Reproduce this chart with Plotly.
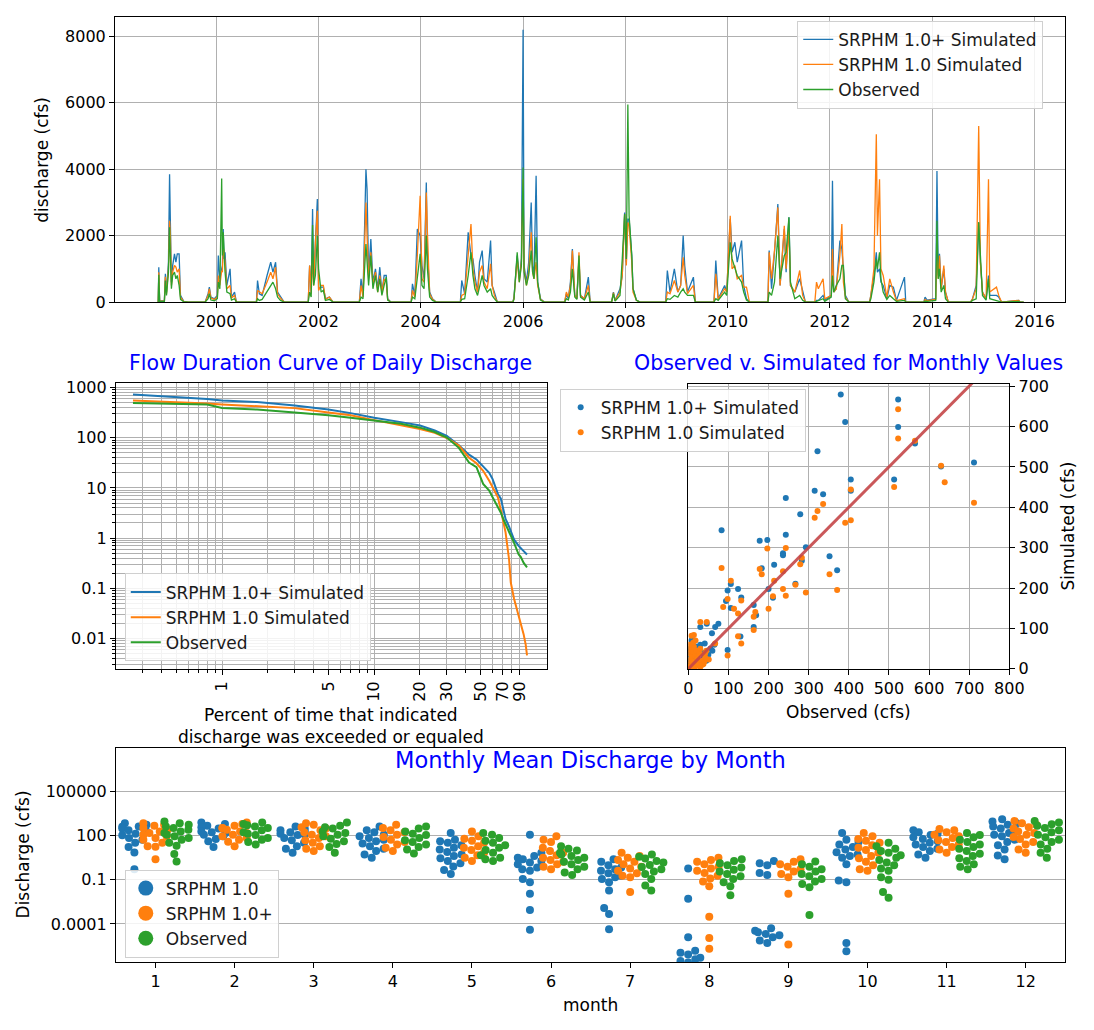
import numpy as np
import plotly.graph_objects as go

# ---------------------------------------------------------------- data
# Daily discharge (cfs): storm peaks and baseflow points per water year
daily_dates = [
    '1998-11-10', '1998-11-14', '1998-11-18', '1998-11-24', '1998-12-28', '1999-01-04', '1999-01-12', '1999-01-26', '1999-02-03', '1999-02-09', '1999-02-16', '1999-02-25', '1999-03-10', '1999-03-20', '1999-03-30', '1999-04-12', '1999-04-22', '1999-05-15', '1999-06-15',
    '1999-10-15', '1999-11-05', '1999-11-14', '1999-11-25', '1999-12-20', '2000-01-10', '2000-01-17', '2000-01-28', '2000-02-10', '2000-02-15', '2000-02-21', '2000-02-27', '2000-03-05', '2000-03-18', '2000-04-10', '2000-04-20', '2000-05-12', '2000-05-25',
    '2000-10-15', '2000-10-23', '2000-11-05', '2000-11-25', '2000-12-30', '2001-01-25', '2001-02-10', '2001-03-01', '2001-03-15', '2001-04-05', '2001-05-01',
    '2001-10-20', '2001-10-30', '2001-11-10', '2001-11-20', '2001-11-28', '2001-12-10', '2001-12-24', '2002-01-02', '2002-01-20', '2002-02-05', '2002-02-20', '2002-03-20', '2002-04-15',
    '2002-10-20', '2002-11-01', '2002-11-15', '2002-12-06', '2002-12-14', '2002-12-25', '2003-01-10', '2003-01-25', '2003-02-12', '2003-02-28', '2003-03-15', '2003-03-30', '2003-04-15', '2003-04-30', '2003-05-10', '2003-06-01',
    '2003-10-25', '2003-11-03', '2003-11-20', '2003-12-08', '2003-12-28', '2004-01-10', '2004-01-25', '2004-02-10', '2004-02-18', '2004-03-05', '2004-03-25', '2004-04-20',
    '2004-10-10', '2004-10-20', '2004-11-10', '2004-12-05', '2004-12-25', '2005-01-08', '2005-01-22', '2005-02-10', '2005-02-24', '2005-03-15', '2005-03-28', '2005-04-20', '2005-05-14', '2005-05-25', '2005-06-10', '2005-07-01',
    '2005-10-20', '2005-10-28', '2005-11-20', '2005-12-05', '2005-12-20', '2006-01-01', '2006-01-08', '2006-01-25', '2006-02-10', '2006-02-28', '2006-03-10', '2006-03-20', '2006-04-04', '2006-04-15', '2006-05-05', '2006-06-01',
    '2006-10-25', '2006-11-06', '2006-11-20', '2006-12-05', '2006-12-19', '2007-01-05', '2007-01-20', '2007-02-04', '2007-02-15', '2007-03-15', '2007-04-12', '2007-04-25',
    '2007-09-25', '2007-10-08', '2007-10-20', '2007-11-24', '2007-12-10', '2007-12-27', '2008-01-08', '2008-01-19', '2008-01-28', '2008-02-16', '2008-02-25', '2008-03-20', '2008-04-15',
    '2008-10-15', '2008-10-27', '2008-11-15', '2008-12-16', '2009-01-10', '2009-01-30', '2009-02-17', '2009-02-28', '2009-03-20', '2009-05-01', '2009-05-15',
    '2009-09-25', '2009-10-08', '2009-10-25', '2009-12-10', '2009-12-25', '2010-01-19', '2010-02-01', '2010-02-21', '2010-03-10', '2010-04-10', '2010-04-25', '2010-05-15', '2010-06-05',
    '2010-10-15', '2010-10-24', '2010-11-10', '2010-12-01', '2010-12-25', '2011-01-10', '2011-02-09', '2011-02-22', '2011-03-14', '2011-03-25', '2011-04-25', '2011-05-30', '2011-06-20', '2011-07-10',
    '2011-09-15', '2011-09-27', '2011-10-10', '2011-11-13', '2011-11-25', '2012-01-10', '2012-01-19', '2012-01-28', '2012-02-15', '2012-03-12', '2012-03-26', '2012-04-06', '2012-04-20', '2012-05-15',
    '2012-10-10', '2012-10-19', '2012-11-10', '2012-11-27', '2012-12-05', '2012-12-20', '2012-12-30', '2013-01-15', '2013-02-10', '2013-03-03', '2013-03-29', '2013-04-20', '2013-06-16', '2013-06-25',
    '2013-11-01', '2013-11-10', '2013-11-25', '2014-01-25', '2014-02-03', '2014-02-12', '2014-02-21', '2014-03-05', '2014-03-24', '2014-04-05', '2014-04-25',
    '2014-10-01', '2014-10-15', '2014-11-10', '2014-11-28', '2014-12-10', '2014-12-25', '2015-01-20', '2015-02-06', '2015-02-15', '2015-04-04', '2015-04-20', '2015-05-10', '2015-09-10', '2015-09-20', '2015-10-15',
]
daily_srphm_plus = [
    0, 0, 1050, 30, 40, 850, 300, 1200, 3850, 2300, 600, 1100, 1450, 1200, 1450, 1450, 200, 20, 0,
    0, 250, 450, 150, 100, 200, 1400, 700, 1000, 1100, 2200, 1300, 1500, 500, 1000, 150, 300, 0,
    0, 650, 250, 200, 800, 1200, 900, 1200, 300, 150, 0,
    0, 1100, 300, 2800, 600, 1700, 3100, 400, 450, 450, 100, 150, 0,
    0, 700, 200, 4000, 3400, 800, 1900, 600, 1000, 400, 1050, 300, 800, 800, 100, 0,
    0, 550, 200, 2200, 2000, 1100, 700, 3600, 1500, 300, 100, 0,
    0, 650, 250, 2100, 1400, 1300, 800, 300, 1200, 1550, 700, 600, 1850, 500, 300, 0,
    0, 150, 1400, 700, 1300, 8200, 1100, 600, 1200, 3000, 1100, 800, 3800, 600, 100, 0,
    0, 250, 100, 600, 1600, 200, 100, 1300, 200, 100, 750, 0,
    0, 300, 50, 400, 800, 2700, 1200, 2500, 2500, 1400, 400, 60, 0,
    0, 950, 300, 1000, 300, 500, 2000, 1100, 300, 750, 0,
    0, 1250, 100, 500, 300, 2500, 1500, 1800, 1200, 1850, 500, 100, 0,
    0, 1550, 400, 1500, 2950, 500, 2200, 900, 2550, 500, 300, 700, 300, 0,
    0, 50, 50, 200, 50, 200, 3650, 300, 400, 1850, 1600, 1050, 200, 0,
    0, 200, 800, 1500, 900, 1000, 600, 500, 100, 500, 450, 50, 750, 0,
    0, 150, 60, 100, 3950, 800, 1450, 400, 1000, 300, 0,
    0, 100, 500, 2400, 1200, 300, 100, 800, 200, 200, 150, 0, 50, 0, 0,
]
daily_srphm = [
    0, 0, 900, 25, 30, 760, 250, 1000, 2450, 2000, 500, 900, 1100, 1050, 900, 1000, 150, 10, 0,
    0, 200, 400, 120, 80, 150, 800, 500, 950, 900, 1650, 1500, 1200, 400, 500, 120, 200, 0,
    0, 350, 300, 250, 600, 900, 700, 1050, 250, 120, 0,
    0, 1100, 250, 1400, 500, 1800, 2750, 350, 500, 500, 80, 150, 0,
    0, 500, 150, 3000, 2000, 700, 1500, 500, 900, 300, 800, 300, 700, 600, 80, 0,
    0, 350, 150, 1400, 3200, 700, 600, 3300, 2100, 250, 80, 0,
    0, 200, 250, 1500, 2350, 1000, 600, 300, 900, 1100, 600, 400, 1150, 500, 200, 0,
    0, 100, 1300, 600, 1200, 3700, 1000, 500, 900, 2100, 900, 700, 1200, 500, 80, 0,
    0, 300, 150, 500, 1550, 200, 100, 1500, 200, 100, 500, 0,
    0, 280, 40, 300, 800, 2650, 1100, 2400, 2300, 1200, 300, 50, 0,
    0, 300, 250, 650, 300, 500, 1350, 800, 250, 500, 0,
    0, 850, 80, 400, 300, 2600, 1000, 1100, 700, 800, 450, 450, 0,
    0, 1500, 700, 1550, 2850, 500, 2300, 1000, 2200, 500, 300, 950, 200, 0,
    0, 600, 400, 700, 100, 200, 1600, 300, 400, 1400, 2350, 600, 150, 0,
    0, 200, 1000, 5050, 2000, 3700, 1000, 800, 150, 700, 300, 40, 100, 0,
    0, 80, 40, 80, 1500, 700, 1400, 400, 1100, 300, 0,
    0, 100, 400, 5300, 1200, 300, 100, 3700, 300, 450, 200, 0, 50, 0, 0,
]
daily_observed = [
    0, 0, 820, 20, 20, 650, 200, 900, 2250, 1600, 400, 800, 900, 700, 800, 500, 80, 10, 0,
    0, 100, 250, 60, 40, 100, 600, 400, 3720, 1400, 2100, 1300, 900, 300, 250, 60, 100, 0,
    0, 100, 50, 80, 300, 500, 600, 400, 150, 50, 0,
    0, 300, 150, 2320, 500, 800, 2000, 1000, 300, 350, 50, 80, 0,
    0, 150, 100, 1750, 1300, 500, 1400, 400, 800, 300, 700, 200, 500, 750, 60, 0,
    0, 150, 100, 800, 1450, 500, 400, 2000, 1000, 150, 50, 0,
    0, 80, 100, 800, 1500, 800, 400, 200, 500, 800, 500, 300, 400, 200, 100, 0,
    0, 80, 1500, 600, 1100, 4050, 900, 500, 800, 1550, 900, 700, 1950, 600, 60, 0,
    0, 100, 60, 300, 1000, 150, 80, 1400, 150, 60, 300, 0,
    0, 250, 30, 200, 1300, 2650, 1300, 5950, 2600, 1400, 400, 50, 0,
    0, 100, 80, 200, 150, 300, 400, 300, 200, 200, 0,
    0, 100, 50, 300, 200, 1800, 1300, 1000, 800, 600, 300, 60, 0,
    0, 300, 200, 600, 2000, 700, 1400, 1500, 2550, 600, 100, 200, 50, 0,
    0, 20, 20, 100, 20, 150, 800, 300, 500, 700, 1100, 1100, 100, 0,
    0, 100, 600, 1300, 1000, 1500, 700, 300, 80, 200, 100, 20, 50, 0,
    0, 30, 20, 50, 2450, 700, 1000, 300, 500, 100, 0,
    0, 50, 100, 2400, 1200, 200, 60, 700, 100, 50, 30, 0, 20, 0, 0,
]
assert len(daily_dates) == len(daily_srphm_plus) == len(daily_srphm) == len(daily_observed)

# Flow duration curve: exceedance percent and discharge (cfs)
fdc_percent = [0.26, 0.5, 0.8, 1.0, 1.7, 3.0, 5.0, 7.0, 10, 15, 20, 25, 30, 36, 42, 47, 52, 57, 60, 65,
               68, 71, 73, 77, 79, 83, 89, 92, 96, 99, 101]
fdc_srphm_plus = [730, 657, 590, 556, 515, 440, 365, 310, 250, 205, 175, 140, 109, 71, 46, 37, 27, 20, 15, 7.6,
                  6.1, 3.1, 2.4, 1.7, 1.4, 0.93, 0.7, 0.64, 0.55, 0.5, 0.47]
fdc_srphm = [556, 520, 480, 460, 420, 390, 318, 280, 225, 180, 150, 125, 99, 70, 40, 31, 22, 13.9, 10.5, 6.5,
             3.6, 2.1, 1.3, 0.37, 0.13, 0.062, 0.029, 0.02, 0.012, 0.0075, 0.0046]
fdc_observed = [492, 480, 460, 393, 365, 318, 282, 250, 219, 190, 159, 130, 101, 63, 32, 26, 12, 8.9, 6.5, 4.2,
                3.2, 2.29, 1.9, 1.35, 1.15, 0.8, 0.47, 0.42, 0.32, 0.28, 0.26]

# Monthly means: observed (x) vs simulated (y), cfs
monthly_obs_plus = [380, 391, 523, 523, 322, 565, 712, 630, 513, 405, 405, 315, 336, 243, 279, 243, 83, 178, 197,
                    236, 236, 293, 352, 371, 214, 283, 183, 267, 200, 211, 106, 124, 132, 94, 98, 163, 163, 169,
                    75, 67, 46, 30, 59, 106, 130, 98, 41, 22, 10, 6,
                    2, 3, 5, 4, 6, 8, 10, 12, 14, 15, 18, 20, 22, 25, 28, 30, 35, 38, 8, 5, 1, 2, 3, 6, 10,
                    1, 2, 12, 16, 24, 40, 45, 50, 55, 60, 65]
monthly_sim_plus = [679, 611, 667, 599, 539, 558, 511, 501, 469, 469, 441, 441, 432, 423, 383, 332, 343, 317, 319,
                    286, 281, 301, 279, 244, 258, 268, 249, 211, 198, 176, 210, 198, 177, 168, 194, 158, 104, 133,
                    112, 104, 112, 104, 88, 151, 80, 47, 63, 55, 72, 39,
                    5, 12, 20, 35, 45, 60, 28, 15, 50, 8, 40, 55, 30, 18, 45, 60, 38, 25, 70, 50, 2, 1, 8, 3, 5,
                    15, 25, 40, 22, 10, 40, 20, 35, 50, 45, 60]
monthly_obs_one = [523, 523, 565, 630, 639, 712, 513, 405, 405, 391, 336, 322, 315, 243, 197, 178, 183, 83, 236,
                   279, 283, 214, 267, 236, 243, 211, 293, 352, 371, 200, 106, 98, 87, 124, 132, 114, 163, 167,
                   163, 132, 124, 98, 67, 46, 30, 14, 10, 51, 42,
                   2, 3, 4, 5, 6, 8, 10, 12, 14, 15, 18, 20, 22, 25, 28, 30, 35, 38, 8, 2, 1, 3, 5, 10, 15,
                   20, 25, 30, 35, 40, 42, 45, 12, 18]
monthly_sim_one = [643, 570, 565, 503, 462, 411, 450, 444, 368, 362, 408, 391, 374, 299, 298, 247, 234, 250, 242,
                   259, 275, 218, 208, 198, 181, 180, 189, 234, 195, 149, 218, 173, 153, 137, 169, 149, 129, 141,
                   96, 63, 81, 33, 63, 116, 116, 84, 55, 23, 39,
                   3, 10, 22, 38, 48, 30, 18, 42, 55, 10, 32, 45, 25, 15, 38, 50, 20, 12, 82, 60, 1, 5, 2, 8, 3,
                   12, 8, 5, 10, 18, 28, 45, 65, 70]

# Monthly mean discharge by calendar month (cfs), one value per year
months = list(range(1, 13))
swarm_srphm = [
    [665, 515, 400, 380, 290, 225, 185, 165, 130, 100, 66, 51, 31, 16, 7, 0.5],
    [750, 600, 440, 360, 290, 220, 185, 160, 143, 111, 86, 56, 40, 16],
    [400, 290, 220, 185, 160, 130, 111, 105, 66, 47, 31, 18.5, 12.5, 6.6],
    [400, 220, 160, 111, 86, 66, 51, 40, 28, 18.5, 12.5, 8.6, 5.1, 3.1],
    [143, 51, 40, 31, 21, 14.4, 11, 7.6, 5.1, 4, 2.8, 1.85, 1.3, 0.77, 0.45, 0.24],
    [111, 6.6, 4, 3.1, 2.4, 1.85, 1.43, 1.1, 0.66, 0.51, 0.4, 0.11, 0.066, 0.011, 0.00086, 0.00004],
    [2.4, 1.6, 0.95, 0.66, 0.51, 0.4, 0.27, 0.185, 0.143, 0.11, 0.066, 0.018, 0.0012, 0.00046, 0.000044],
    [0.57, 0.0051, 0.0000123, 0.0000015, 0.0000011, 8.6e-7, 5e-7, 4e-7, 3.1e-7, 2.4e-7],
    [1.85, 1.3, 0.95, 0.28, 0.21, 0.000051, 0.000034, 0.000027, 0.000021, 0.000017, 0.0000123, 0.0000074, 0.0000051],
    [143, 51, 35, 24, 16, 11, 7.3, 5.1, 4, 3.1, 1.1, 0.086, 0.066, 0.0000051, 0.0000014],
    [220, 160, 130, 105, 74, 56, 40, 31, 24, 16, 12.5, 8.6, 5.1, 3.1],
    [1230, 860, 665, 515, 400, 290, 200, 143, 111, 86, 51, 35, 21, 11, 4.4, 2.4],
]
swarm_srphm_plus = [
    [665, 515, 450, 310, 240, 185, 143, 111, 86, 66, 51, 31, 18.5, 17, 2.4],
    [750, 600, 440, 310, 300, 240, 185, 143, 111, 86, 66, 51, 37, 18.5],
    [665, 515, 360, 290, 220, 160, 111, 86, 66, 47, 31, 18.5, 12.5, 8.6],
    [515, 310, 220, 160, 111, 78, 51, 35, 24, 14.4, 8.6],
    [185, 86, 60, 44, 31, 18.5, 14.4, 10, 6.6, 4.5, 3.1, 1.85],
    [86, 51, 35, 14.4, 8.6, 6.6, 4.5, 3.1, 2.1, 1.6, 1.1, 0.75, 0.51],
    [6.6, 4, 3.1, 2.1, 1.6, 1.1, 0.75, 0.57, 0.4, 0.27, 0.185, 0.143, 0.0143],
    [3.1, 2.1, 1.6, 1.1, 0.75, 0.57, 0.4, 0.28, 0.185, 0.12, 0.074, 0.035, 0.00031, 0.000011, 0.0000021],
    [2.4, 1.6, 1.1, 0.75, 0.51, 0.35, 0.24, 0.143, 0.011, 0.000004],
    [143, 86, 56, 44, 31, 21, 14.4, 10, 6.6, 4, 2.8, 1.6, 0.95, 0.51, 0.4],
    [270, 220, 160, 111, 86, 66, 47, 35, 24, 16, 11, 6.6],
    [950, 665, 515, 360, 290, 185, 143, 111, 78, 56, 35, 24, 11, 6.6],
]
swarm_observed = [
    [860, 665, 515, 400, 310, 240, 185, 143, 111, 86, 66, 51, 31, 20, 5.5, 1.7],
    [750, 600, 490, 400, 310, 220, 160, 130, 105, 66, 51, 35, 24],
    [750, 440, 360, 290, 185, 143, 111, 86, 60, 40, 26, 16, 6.6],
    [400, 290, 185, 130, 105, 66, 47, 35, 24, 16, 11, 6],
    [143, 111, 66, 44, 31, 21, 14.4, 10, 6.6, 4.5, 3.1, 2.4, 1.85],
    [18.5, 12.5, 9.6, 6.6, 5.1, 4, 3.1, 2.1, 1.6, 1.1, 0.75, 0.51, 0.31, 0.21],
    [5.1, 3.6, 2.7, 1.85, 1.43, 1.0, 0.73, 0.51, 0.35, 0.24, 0.11, 0.04, 0.018],
    [2.4, 1.85, 1.3, 0.95, 0.66, 0.46, 0.35, 0.24, 0.17, 0.11, 0.066, 0.035, 0.0086],
    [1.7, 1.1, 0.75, 0.51, 0.35, 0.24, 0.17, 0.11, 0.074, 0.05, 0.031, 0.0004],
    [31, 18.5, 12.5, 8.6, 6.6, 4.5, 3.1, 2.1, 1.43, 0.95, 0.57, 0.4, 0.143, 0.1, 0.0143, 0.006],
    [143, 105, 74, 51, 35, 24, 16, 12.5, 8.6, 5.6, 4, 2.8, 1.85, 1.1, 0.75, 0.51],
    [950, 750, 570, 440, 310, 220, 160, 111, 74, 51, 35, 24, 12.5, 6.6, 3.1],
]

# ---------------------------------------------------------------- style
BLUE, ORANGE, GREEN = '#1f77b4', '#ff7f0e', '#2ca02c'
FONT = 'DejaVu Sans'
W, H = 1094, 1030
GRID = '#b0b0b0'
TICK_SIZE = 16
LABEL_SIZE = 17


def fx(px):
    return px / W


def fy(py):
    return 1 - py / H


axis_style = dict(
    showline=True, linecolor='black', linewidth=1, mirror=True,
    ticks='outside', ticklen=5, tickwidth=1, tickcolor='black',
    tickfont=dict(family=FONT, size=TICK_SIZE, color='black'),
    zeroline=False, showgrid=True, gridcolor=GRID, gridwidth=1,
)


def beeswarm(values, diam, px_per_decade, px_per_unit, half_width):
    """Horizontal offsets (data units) so that points of diameter `diam` px do not overlap."""
    y = np.log10(np.asarray(values, dtype=float)) * px_per_decade
    offsets = np.zeros(len(y))
    px_, py_ = [], []
    for i in np.argsort(y):
        yi = y[i]
        cands = [0.0]
        for xj, yj in zip(px_, py_):
            dy = abs(yi - yj)
            if dy < diam:
                dx = np.sqrt(diam ** 2 - dy ** 2)
                cands += [xj - dx, xj + dx]
        cands = sorted(set(cands), key=lambda c: (abs(c), c))
        chosen = cands[-1]
        for c in cands:
            if all((c - xj) ** 2 + (yi - yj) ** 2 >= diam ** 2 - 1e-6 for xj, yj in zip(px_, py_)):
                chosen = c
                break
        px_.append(chosen)
        py_.append(yi)
        offsets[i] = chosen
    offs = offsets / px_per_unit
    return np.clip(offs, -half_width, half_width)


fig = go.Figure()

# ---- daily hydrograph
for name, vals, col in [('SRPHM 1.0+ Simulated', daily_srphm_plus, BLUE),
                        ('SRPHM 1.0 Simulated', daily_srphm, ORANGE),
                        ('Observed', daily_observed, GREEN)]:
    fig.add_trace(go.Scatter(x=daily_dates, y=vals, mode='lines', name=name,
                             line=dict(color=col, width=1.3), xaxis='x', yaxis='y',
                             legend='legend'))

# ---- flow duration curve
for name, vals, col in [('SRPHM 1.0+ Simulated', fdc_srphm_plus, BLUE),
                        ('SRPHM 1.0 Simulated', fdc_srphm, ORANGE),
                        ('Observed', fdc_observed, GREEN)]:
    fig.add_trace(go.Scatter(x=fdc_percent, y=vals, mode='lines', name=name,
                             line=dict(color=col, width=2), xaxis='x2', yaxis='y2',
                             legend='legend2'))

# ---- observed vs simulated
fig.add_trace(go.Scatter(x=monthly_obs_plus, y=monthly_sim_plus, mode='markers',
                         name='SRPHM 1.0+ Simulated', marker=dict(color=BLUE, size=6),
                         xaxis='x3', yaxis='y3', legend='legend3'))
fig.add_trace(go.Scatter(x=monthly_obs_one, y=monthly_sim_one, mode='markers',
                         name='SRPHM 1.0 Simulated', marker=dict(color=ORANGE, size=6),
                         xaxis='x3', yaxis='y3', legend='legend3'))
obs_max = max(max(monthly_obs_plus), max(monthly_obs_one))
fig.add_trace(go.Scatter(x=[0, obs_max], y=[0, obs_max], mode='lines', showlegend=False,
                         line=dict(color='rgba(196,70,72,0.9)', width=3), xaxis='x3', yaxis='y3'))

# ---- monthly swarm
PX_PER_DECADE = 15.0
PX_PER_MONTH = 80.6
DOT = 8
hue_offsets = [-0.8 / 3, 0.0, 0.8 / 3]
for (name, groups, col), hoff in zip([('SRPHM 1.0', swarm_srphm, BLUE),
                                       ('SRPHM 1.0+', swarm_srphm_plus, ORANGE),
                                       ('Observed', swarm_observed, GREEN)], hue_offsets):
    xs, ys = [], []
    for m, vals in zip(months, groups):
        offs = beeswarm(vals, DOT, PX_PER_DECADE, PX_PER_MONTH, 0.8 / 3 / 2 + 0.02)
        xs += list(m + hoff + offs)
        ys += list(vals)
    fig.add_trace(go.Scatter(x=xs, y=ys, mode='markers', showlegend=False,
                             marker=dict(color=col, size=DOT, line=dict(width=0)),
                             xaxis='x4', yaxis='y4'))
    fig.add_trace(go.Scatter(x=[None], y=[None], mode='markers', name=name,
                             marker=dict(color=col, size=15), xaxis='x4', yaxis='y4',
                             legend='legend4'))

# ---------------------------------------------------------------- axes
fdc_minor_x = [k * 10.0 ** e for e in range(-1, 3) for k in range(2, 10) if 0.2 <= k * 10.0 ** e <= 136]
fdc_minor_y = [k * 10.0 ** e for e in range(-3, 4) for k in range(2, 10) if 0.0025 <= k * 10.0 ** e <= 1250]

fig.update_layout(
    width=W, height=H, margin=dict(l=0, r=0, t=0, b=0), autosize=False,
    paper_bgcolor='white', plot_bgcolor='white',
    font=dict(family=FONT, size=LABEL_SIZE, color='black'),
    xaxis=dict(axis_style, domain=[fx(112), fx(1080)], anchor='y', type='date',
               range=['1998-01-09', '2016-08-07'], tick0='2000-01-01', dtick='M24',
               tickformat='%Y'),
    yaxis=dict(axis_style, domain=[fy(300), fy(10)], anchor='x', range=[0, 8590],
               tickvals=[0, 2000, 4000, 6000, 8000]),
    xaxis2=dict(axis_style, domain=[fx(113), fx(552)], anchor='y2', type='log',
                range=[-0.697, 2.135], tickmode='array',
                tickvals=[1, 5, 10, 20, 30, 50, 70, 90],
                ticktext=['1', '5', '10', '20', '30', '50', '70', '90'], tickangle=-90,
                minor=dict(tickmode='array', tickvals=fdc_minor_x, showgrid=True,
                           gridcolor=GRID, gridwidth=1, ticks='outside', ticklen=3,
                           tickcolor='black')),
    yaxis2=dict(axis_style, domain=[fy(673), fy(382)], anchor='x2', type='log',
                range=[-2.608, 3.098], tickmode='array',
                tickvals=[0.01, 0.1, 1, 10, 100, 1000],
                ticktext=['0.01', '0.1', '1', '10', '100', '1000'],
                minor=dict(tickmode='array', tickvals=fdc_minor_y, showgrid=True,
                           gridcolor=GRID, gridwidth=1, ticks='outside', ticklen=3,
                           tickcolor='black')),
    xaxis3=dict(axis_style, domain=[fx(696), fx(1023)], anchor='y3', range=[0, 800],
                tickvals=list(range(0, 801, 100))),
    yaxis3=dict(axis_style, domain=[fy(673), fy(383)], anchor='x3', range=[0, 706],
                tickvals=list(range(0, 701, 100)), side='right'),
    xaxis4=dict(axis_style, domain=[fx(113), fx(1080)], anchor='y4', range=[0.5, 12.5],
                tickvals=months, showgrid=False),
    yaxis4=dict(axis_style, domain=[fy(971), fy(753)], anchor='x4', type='log',
                range=[-6.58, 7.95], tickmode='array',
                tickvals=[1e-4, 0.1, 100, 1e5], ticktext=['0.0001', '0.1', '100', '100000']),
)

legend_style = dict(bgcolor='rgba(255,255,255,0.85)', bordercolor='#d0d0d0', borderwidth=1,
                    font=dict(family=FONT, size=LABEL_SIZE, color='#1a1a1a'),
                    xanchor='left', yanchor='top', tracegroupgap=0)
fig.update_layout(
    legend=dict(legend_style, x=fx(807), y=fy(14)),
    legend2=dict(legend_style, x=fx(122), y=fy(576)),
    legend3=dict(legend_style, x=fx(565), y=fy(388)),
    legend4=dict(legend_style, x=fx(122), y=fy(877)),
)

# ---------------------------------------------------------------- text
TITLE_BLUE = '#0000ff'
annotations = [
    dict(text='Flow Duration Curve of Daily Discharge', x=fx(332), y=fy(362),
         font=dict(size=20.5, color=TITLE_BLUE)),
    dict(text='Observed v. Simulated for Monthly Values', x=fx(859), y=fy(362),
         font=dict(size=20.5, color=TITLE_BLUE)),
    dict(text='Monthly Mean Discharge by Month', x=fx(596), y=fy(766),
         font=dict(size=22.5, color=TITLE_BLUE)),
    dict(text='discharge (cfs)', x=fx(38), y=fy(155), textangle=-90),
    dict(text='Percent of time that indicated<br>discharge was exceeded or equaled',
         x=fx(332), y=fy(731)),
    dict(text='Observed (cfs)', x=fx(859), y=fy(717)),
    dict(text='Simulated (cfs)', x=fx(1083), y=fy(528), textangle=-90),
    dict(text='Discharge (cfs)', x=fx(18), y=fy(862), textangle=-90),
    dict(text='month', x=fx(596), y=fy(1015)),
]
for a in annotations:
    a.setdefault('font', {})
    a['font'] = dict(dict(family=FONT, size=LABEL_SIZE, color='black'), **a['font'])
    fig.add_annotation(xref='paper', yref='paper', showarrow=False,
                       xanchor='center', yanchor='middle', **a)

# fixed-size page: no body margin, no scrollbars, no responsive resizing
page_css = ("document.body.style.margin='0';document.body.style.padding='0';"
            "document.documentElement.style.overflow='hidden';"
            "document.body.style.overflow='hidden';")
fig.write_html('out.html', config={'responsive': False}, post_script=page_css)
